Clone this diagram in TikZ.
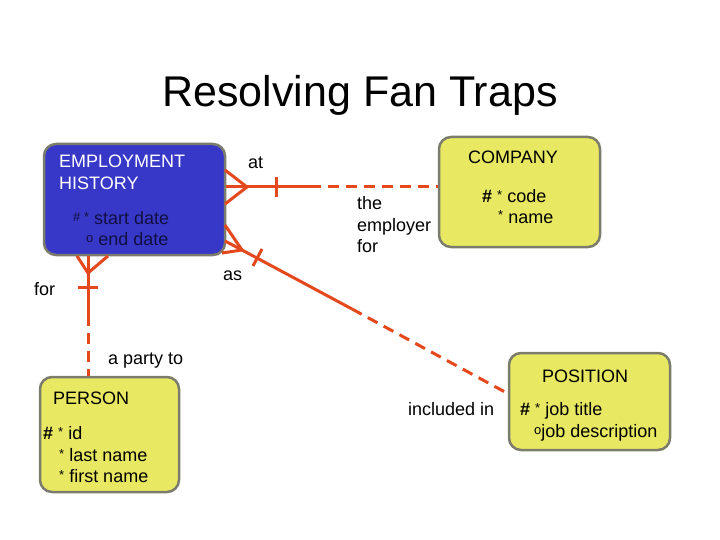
\documentclass[tikz,border=0pt]{standalone}
\usepackage{fontspec}
\setmainfont{Liberation Sans}

\definecolor{ehblue}{HTML}{3838C8}
\definecolor{entyellow}{HTML}{E8E862}
\definecolor{entgray}{HTML}{7C7C6C}
\definecolor{relred}{HTML}{E4481C}
\definecolor{attrnavy}{HTML}{101040}

\tikzset{
  entity/.style={draw=entgray, line width=2.5pt, rounded corners=12pt, fill=entyellow, inner sep=0pt},
  txt/.style={anchor=base west, inner sep=0pt, font=\fontsize{18}{20}\selectfont},
  rel/.style={draw=relred, line width=3pt},
  reldash/.style={rel, dash pattern=on 11pt off 7pt},
}
\newcommand{\smark}[1]{\raisebox{3pt}{\fontsize{13}{13}\selectfont #1}}

\begin{document}
\begin{tikzpicture}[x=1pt,y=-1pt]
        \useasboundingbox (0,0) rectangle (720,540);
        \node [anchor=base, inner sep=0pt, font=\fontsize{43}{50}\selectfont] (title) at (360,107) {Resolving Fan Traps};

        % entities
        \node [entity, fill=ehblue, minimum width=181pt, minimum height=111pt] (eh) at (134.5,199.5) {};
        \node [entity, minimum width=161pt, minimum height=110pt] (company) at (519.5,192) {};
        \node [entity, minimum width=139pt, minimum height=115pt] (person) at (109.5,434.5) {};
        \node [entity, minimum width=161pt, minimum height=97pt] (position) at (589.5,401.5) {};

        % employment history
        \node [txt, text=white] (ehname1) at (59,168) {EMPLOYMENT};
        \node [txt, text=white] (ehname2) at (59,190) {HISTORY};
        \node [txt, text=attrnavy] (ehstart) at (73,225) {\smark{\# *} start date};
        \node [txt, text=attrnavy] (ehend) at (86,245) {\smark{o} end date};

        % company
        \node [txt, anchor=base] (coname) at (513,164) {COMPANY};
        \node [txt] (cocode) at (482,203) {\textbf{\#} \smark{*} code};
        \node [txt] (coname2) at (498,223) {\smark{*} name};

        % person
        \node [txt] (pename) at (53,404) {PERSON};
        \node [txt] (peid) at (43,439) {\textbf{\#} \smark{*} id};
        \node [txt] (pelast) at (59,461) {\smark{*} last name};
        \node [txt] (pefirst) at (59,482) {\smark{*} first name};

        % position
        \node [txt, anchor=base] (poname) at (585,382) {POSITION};
        \node [txt] (potitle) at (520,415) {\textbf{\#} \smark{*} job title};
        \node [txt] (podesc) at (534,437) {\smark{o}job description};

        % relationship: at / the employer for
        \coordinate (atfoot) at (247,187);
        \coordinate (atsplit) at (310,187);
        \draw [rel] (225,170) -- (atfoot) -- (225,204);
        \draw [rel] (eh.east |- atfoot) -- (atsplit);
        \draw [rel] (276,177) -- (276,197);
        \draw [reldash] (atsplit) -- (company.west |- atsplit);
        \node [txt] (atlbl) at (248,169) {at};
        \node [txt] (emp1) at (357,210) {the};
        \node [txt] (emp2) at (357,232) {employer};
        \node [txt] (emp3) at (357,252) {for};

        % relationship: as / included in
        \coordinate (asfoot) at (242,250);
        \coordinate (assplit) at (352,309);
        \coordinate (asend) at (505,392);
        \draw [rel] (225,225) -- (asfoot) -- (222,253);
        \draw [rel] (225,241) -- (asfoot) -- (assplit);
        \draw [rel] (262,249) -- (253,266);
        \draw [reldash] (assplit) -- (asend);
        \node [txt] (aslbl) at (223,280) {as};
        \node [txt] (inclbl) at (408,415) {included in};

        % relationship: for / a party to
        \coordinate (forfoot) at (88,273);
        \coordinate (forsplit) at (88,315);
        \draw [rel] (77,256) -- (forfoot) -- (108,256);
        \draw [rel] (forfoot |- eh.south) -- (forsplit);
        \draw [rel] (78,287) -- (98,287);
        \draw [reldash] (forsplit) -- (forsplit |- person.north);
        \node [txt] (forlbl) at (34,295) {for};
        \node [txt] (partylbl) at (108,364) {a party to};
    \end{tikzpicture}
\end{document}
